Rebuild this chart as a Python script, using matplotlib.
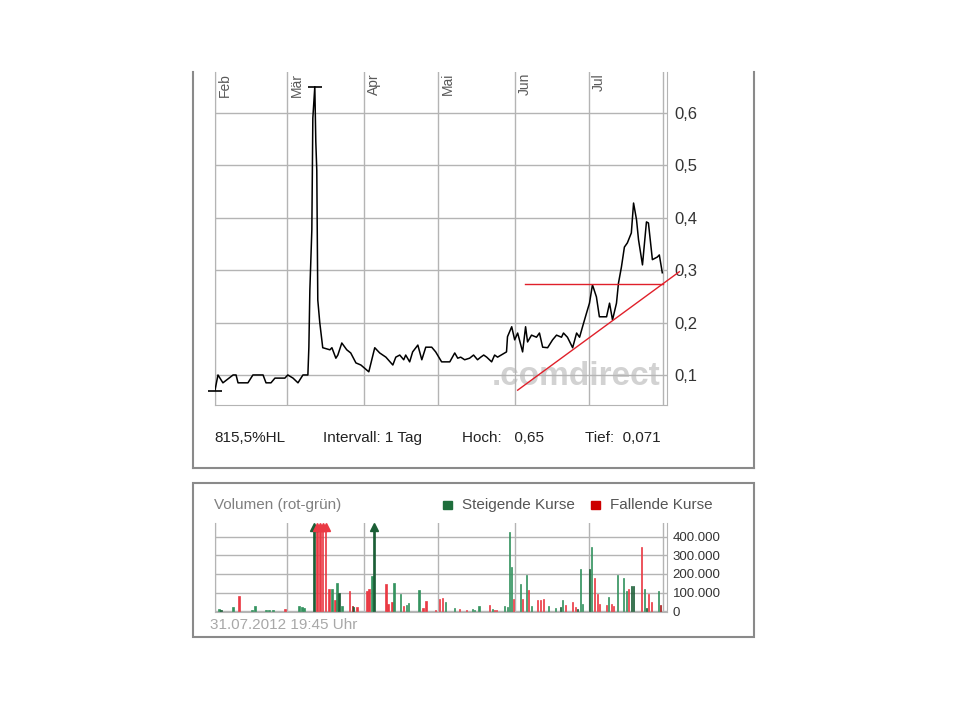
import matplotlib
matplotlib.use("Agg")
from matplotlib import pyplot as plt
from matplotlib.lines import Line2D
from matplotlib.patches import Rectangle
from matplotlib.ticker import FuncFormatter

plt.rcParams["font.family"] = ["Liberation Sans", "DejaVu Sans"]

# x axis: days since 1 Feb 2012
month_names = ["Feb", "Mär", "Apr", "Mai", "Jun", "Jul"]
month_days = [0, 29, 60, 90, 121, 151]
last_day = 181

price_days = [
    0.0, 1.2, 3.2, 7.3, 8.5, 9.3, 13.3, 15.3, 19.4, 20.6, 22.6, 24.2, 28.2, 29.4,
    31.5, 33.5, 35.5, 37.5, 37.9, 38.3, 39.1, 39.5, 40.3, 40.7, 41.1, 41.5, 42.3,
    43.5, 46.4, 47.2, 48.8, 49.6, 51.2, 53.2, 54.8, 56.9, 58.9, 62.1, 64.5, 66.5,
    69.0, 71.8, 73.0, 74.6, 76.2, 77.0, 78.6, 79.8, 81.9, 83.5, 85.1, 87.5, 89.1,
    91.5, 94.8, 96.8, 98.0, 99.2, 100.8, 102.8, 104.4, 106.0, 107.3, 108.5, 109.7,
    111.7, 112.9, 114.1, 117.7, 118.1, 119.8, 121.0, 122.2, 124.2, 125.4, 126.2,
    127.8, 129.8, 131.0, 132.3, 134.3, 136.3, 137.9, 139.9, 140.7, 142.3, 144.4,
    146.0, 147.2, 148.4, 150.0, 151.2, 152.4, 154.0, 155.2, 158.1, 159.3, 160.5,
    162.1, 162.9, 164.1, 165.3, 166.5, 168.1, 169.0, 170.2, 171.0, 172.6, 174.2,
    175.0, 176.6, 178.6, 179.4, 180.6,
]
price_values = [
    0.071, 0.100, 0.085, 0.100, 0.100, 0.085, 0.085, 0.100, 0.100, 0.085, 0.085,
    0.094, 0.094, 0.100, 0.094, 0.085, 0.100, 0.100, 0.153, 0.262, 0.377, 0.590,
    0.650, 0.545, 0.490, 0.243, 0.200, 0.152, 0.148, 0.152, 0.132, 0.138, 0.161,
    0.148, 0.142, 0.123, 0.119, 0.106, 0.152, 0.142, 0.134, 0.119, 0.134, 0.138,
    0.129, 0.138, 0.125, 0.144, 0.157, 0.129, 0.153, 0.153, 0.144, 0.125, 0.125,
    0.142, 0.132, 0.134, 0.129, 0.132, 0.138, 0.129, 0.134, 0.138, 0.134, 0.125,
    0.138, 0.134, 0.144, 0.173, 0.192, 0.167, 0.180, 0.144, 0.192, 0.163, 0.176,
    0.172, 0.180, 0.153, 0.152, 0.167, 0.176, 0.172, 0.180, 0.172, 0.152, 0.180,
    0.172, 0.192, 0.218, 0.237, 0.272, 0.249, 0.211, 0.211, 0.237, 0.205, 0.237,
    0.275, 0.306, 0.344, 0.352, 0.371, 0.428, 0.396, 0.358, 0.310, 0.392, 0.390,
    0.320, 0.325, 0.329, 0.295,
]

high_day, high_value = 40.3, 0.65
low_day, low_value = 0.0, 0.069

resistance_days = [125.0, 181.0]
resistance_values = [0.274, 0.274]
trend_days = [122.2, 187.5]
trend_values = [0.071, 0.297]

stats = ["815,5%HL", "Intervall: 1 Tag", "Hoch:   0,65", "Tief:  0,071"]

# volume bars (g = steigend, r = fallend, d* = darker shade)
vol_days = [
    1.6, 2.4, 7.3, 9.7, 14.9, 16.1, 20.6, 21.8, 23.4, 28.2, 33.9, 35.1, 35.9,
    39.9, 41.1, 42.3, 43.5, 44.7, 46.0, 47.2, 48.4, 49.2, 50.0, 51.2, 54.4, 55.6,
    56.0, 57.3, 61.3, 62.1, 63.3, 64.1, 69.0, 69.8, 71.4, 72.2, 75.0, 76.2, 77.4,
    78.2, 82.3, 83.9, 85.1, 89.1, 90.7, 91.9, 93.1, 96.8, 98.8, 101.6, 104.0,
    104.8, 106.5, 110.9, 112.1, 112.9, 113.7, 116.9, 118.1, 118.9, 119.8, 120.6,
    123.4, 124.2, 125.8, 126.6, 127.8, 130.2, 131.5, 132.7, 134.7, 137.5, 139.5,
    140.3, 141.5, 144.4, 145.6, 146.4, 147.6, 148.4, 151.2, 152.0, 153.2, 154.4,
    155.2, 158.1, 158.9, 160.1, 160.9, 162.5, 164.9, 166.1, 166.9, 168.2, 169.0,
    172.2, 173.4, 174.2, 175.0, 176.2, 179.0, 179.8,
]
vol_values = [
    12000, 5000, 22000, 79000, 5000, 27000, 5000, 4000, 4000, 10000, 27000, 22000,
    15000, 600000, 600000, 600000, 600000, 600000, 120000, 117000, 58000, 151000,
    99000, 27000, 108000, 27000, 20000, 22000, 108000, 120000, 187000, 600000,
    144000, 40000, 49000, 153000, 94000, 27000, 34000, 41000, 115000, 18000, 52000,
    8000, 67000, 72000, 49000, 18000, 12000, 5000, 10000, 5000, 27000, 34000,
    10000, 8000, 8000, 27000, 20000, 427000, 238000, 67000, 144000, 67000, 196000,
    115000, 27000, 58000, 58000, 67000, 27000, 15000, 22000, 58000, 34000, 49000,
    22000, 12000, 225000, 40000, 225000, 346000, 178000, 90000, 40000, 34000,
    76000, 40000, 27000, 193000, 180000, 108000, 120000, 135000, 135000, 346000,
    120000, 15000, 94000, 49000, 108000, 34000,
]
vol_kind = [
    "g", "dg", "g", "r", "g", "g", "g", "g", "g", "r", "g", "g", "g",
    "dg", "r", "r", "r", "r", "r", "g", "r", "g", "dg", "g", "r", "dr",
    "dg", "r", "r", "r", "g", "dg", "r", "r", "r", "g", "g", "r", "g",
    "g", "g", "r", "r", "r", "r", "r", "g", "g", "r", "r", "g",
    "g", "g", "r", "g", "r", "r", "g", "g", "g", "g", "r",
    "g", "r", "g", "r", "g", "r", "r", "r", "g", "g", "dg",
    "g", "r", "r", "r", "dg", "g", "g", "dg", "g", "r", "r",
    "r", "r", "g", "r", "r", "g", "g", "g", "r", "dg", "dg",
    "r", "g", "dg", "r", "r", "g", "dr",
]
vol_ticks = [0, 100000, 200000, 300000, 400000]

kind_colors = {"g": "#34935f", "dg": "#1b5e36", "r": "#ea3a44", "dr": "#a81c1c"}
grid_color = "#b4b4b4"
box_color = "#8a8a8a"

W, H = 960, 720


def fx(px):
    return px / W


def fy(py):
    return 1 - py / H


fig = plt.figure(figsize=(9.6, 7.2), dpi=100)

# price panel
ax = fig.add_axes([fx(215), fy(405), fx(667) - fx(215), fy(72) - fy(405)])
ax.set_xlim(0, 182.5)
ax.set_ylim(0.0427, 0.678)
ax.set_xticks(month_days + [last_day])
ax.set_yticks([0.1, 0.2, 0.3, 0.4, 0.5, 0.6])
ax.grid(True, color=grid_color, lw=1)
ax.tick_params(axis="x", length=0, labelbottom=False)
ax.yaxis.tick_right()
ax.tick_params(axis="y", length=0, pad=5, labelsize=12, labelcolor="#333333")
ax.yaxis.set_major_formatter(FuncFormatter(lambda v, _: f"{v:.1f}".replace(".", ",")))
ax.spines["top"].set_visible(False)
for side in ("left", "right", "bottom"):
    ax.spines[side].set_color(grid_color)

for d, name in zip(month_days, month_names):
    ax.text(d + 1.3, 0.997, name, transform=ax.get_xaxis_transform(), rotation=90,
            ha="left", va="top", fontsize=10, color="#5a5a5a")

ax.text(0.799, 0.087, ".comdirect", transform=ax.transAxes, ha="center", va="center",
        fontsize=24, fontweight="bold", color="#d2d2d2", zorder=1)

ax.plot(price_days, price_values, color="black", lw=1.1, zorder=3)
ax.plot([high_day], [high_value], marker="_", ms=10, mew=1.2, color="black",
        clip_on=False, zorder=3)
ax.plot([low_day], [low_value], marker="_", ms=10, mew=1.2, color="black",
        clip_on=False, zorder=3)
ax.plot(resistance_days, resistance_values, color="#e0202a", lw=1, zorder=4)
ax.plot(trend_days, trend_values, color="#e0202a", lw=1, clip_on=False, zorder=4)

stat_x = [214, 323, 462, 585]
for x, s in zip(stat_x, stats):
    fig.text(fx(x), fy(438), s, ha="left", va="center", fontsize=11, color="#222222")

# volume panel
vax = fig.add_axes([fx(215), fy(612), fx(667) - fx(215), fy(523) - fy(612)])
vax.set_xlim(0, 182.5)
vax.set_ylim(-5000, 475000)
vax.set_xticks(month_days + [last_day])
vax.set_yticks(vol_ticks)
vax.grid(True, color=grid_color, lw=1)
vax.tick_params(axis="x", length=0, labelbottom=False)
vax.yaxis.tick_right()
vax.tick_params(axis="y", length=0, pad=4, labelsize=9.5, labelcolor="#333333")
vax.yaxis.set_major_formatter(FuncFormatter(lambda v, _: f"{int(v):,}".replace(",", ".")))
vax.spines["top"].set_visible(False)
for side in ("left", "right", "bottom"):
    vax.spines[side].set_color(grid_color)

cap = 445000
heights = [min(v, cap) for v in vol_values]
colors = [kind_colors[k] for k in vol_kind]
vax.bar(vol_days, heights, width=0.6, color=colors, edgecolor=colors, lw=0.5, zorder=3)
for d, v, c in zip(vol_days, vol_values, colors):
    if v > cap:
        vax.plot([d], [cap + 10000], marker="^", ms=6, color=c, clip_on=False, zorder=4)

fig.text(fx(214), fy(505), "Volumen (rot-grün)", ha="left", va="center",
         fontsize=11, color="#808080")
fig.add_artist(Rectangle((fx(443), fy(509)), fx(452) - fx(443), fy(501) - fy(509),
                         transform=fig.transFigure, color="#1e6e3c"))
fig.text(fx(462), fy(505), "Steigende Kurse", ha="left", va="center",
         fontsize=11, color="#555555")
fig.add_artist(Rectangle((fx(591), fy(509)), fx(600) - fx(591), fy(501) - fy(509),
                         transform=fig.transFigure, color="#cc0000"))
fig.text(fx(610), fy(505), "Fallende Kurse", ha="left", va="center",
         fontsize=11, color="#555555")
fig.text(fx(210), fy(625), "31.07.2012 19:45 Uhr", ha="left", va="center",
         fontsize=11, color="#a8a8a8")

# panel frames
for xs, ys in [([193, 193], [72, 468]), ([193, 754], [468, 468]), ([754, 754], [72, 468])]:
    fig.add_artist(Line2D([fx(x) for x in xs], [fy(y) for y in ys],
                          transform=fig.transFigure, color=box_color, lw=1.5))
fig.add_artist(Rectangle((fx(193), fy(637)), fx(754) - fx(193), fy(483) - fy(637),
                         transform=fig.transFigure, fill=False, ec=box_color, lw=1.5))

fig.savefig("out.png", dpi=100)
